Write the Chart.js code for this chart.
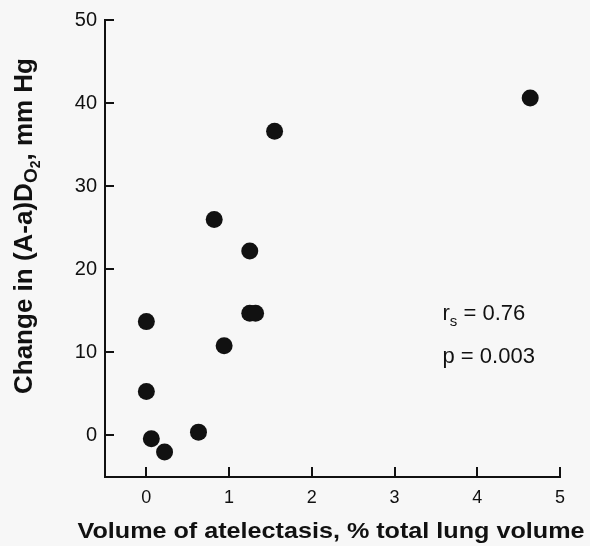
<!DOCTYPE html>
<html>
<head>
<meta charset="utf-8">
<script src="https://cdn.jsdelivr.net/npm/chart.js@4.4.0/dist/chart.umd.min.js"></script>
<style>
  html, body { margin: 0; padding: 0; background: #f7f7f7; }
</style>
</head>
<body>
<canvas id="myChart" width="590" height="546"></canvas>
<script>
// atelectasis volume (% of total lung volume) vs change in (A-a)DO2 (mm Hg)
let atelectasis = [1.55, 0.82, 1.25, 0, 1.25, 1.32, 0.94, 0, 0.06, 0.22, 0.63, 4.64];
let aaDO2Change = [36.6, 26.0, 22.2, 13.7, 14.7, 14.7, 10.8, 5.3, -0.4, -2.0, 0.4, 40.6];
let xTicks = [0, 1, 2, 3, 4, 5];
let yTicks = [0, 10, 20, 30, 40, 50];
let xTitle = 'Volume of atelectasis, % total lung volume';
let statsText = [['r', 's', ' = 0.76'], ['p', '', ' = 0.003']];

let ink = '#111';
let sans = '"Liberation Sans", Arial, sans-serif';

// draws text pieces with subscripts, left to right from x
function drawPieces(ctx, pieces, x, y) {
    pieces.forEach(function (p) {
        ctx.font = p.font;
        ctx.fillText(p.text, x, y + (p.dy || 0));
        x += ctx.measureText(p.text).width;
    });
}

function piecesWidth(ctx, pieces) {
    let w = 0;
    pieces.forEach(function (p) {
        ctx.font = p.font;
        w += ctx.measureText(p.text).width;
    });
    return w;
}

let extrasPlugin = {
    id: 'extras',
    afterDraw: function (chart) {
        let ctx = chart.ctx;
        let xs = chart.scales.x;
        let ys = chart.scales.y;
        let area = chart.chartArea;
        ctx.save();
        ctx.strokeStyle = ink;
        ctx.lineWidth = 2;
        // inward tick marks
        ctx.beginPath();
        yTicks.forEach(function (v) {
            let py = Math.round(ys.getPixelForValue(v));
            ctx.moveTo(area.left, py);
            ctx.lineTo(area.left + 9, py);
        });
        xTicks.forEach(function (v) {
            let px = Math.round(xs.getPixelForValue(v));
            ctx.moveTo(px, area.bottom);
            ctx.lineTo(px, area.bottom - 10);
        });
        ctx.stroke();

        ctx.fillStyle = ink;

        // x axis title, stretched a little like the scanned original
        ctx.font = 'bold 22px ' + sans;
        ctx.textAlign = 'center';
        ctx.textBaseline = 'alphabetic';
        let stretch = 507 / ctx.measureText(xTitle).width;
        ctx.translate(331, 538);
        ctx.scale(stretch, 1);
        ctx.fillText(xTitle, 0, 0);
        ctx.setTransform(1, 0, 0, 1, 0, 0);

        // y axis title with subscripts
        ctx.textAlign = 'left';
        ctx.textBaseline = 'middle';
        let bold = 'bold 26px ' + sans;
        let yTitle = [
            {text: 'Change in (A-a)D', font: bold},
            {text: 'O', font: 'bold 19px ' + sans, dy: 7},
            {text: '2', font: 'bold 14px ' + sans, dy: 11},
            {text: ', mm Hg', font: bold}
        ];
        ctx.translate(25, 226);
        ctx.rotate(-Math.PI / 2);
        drawPieces(ctx, yTitle, -piecesWidth(ctx, yTitle) / 2, 0);
        ctx.setTransform(1, 0, 0, 1, 0, 0);

        // statistics
        let sx = xs.getPixelForValue(3.58);
        let rows = [14.65, 9.4];
        statsText.forEach(function (t, i) {
            let py = ys.getPixelForValue(rows[i]);
            drawPieces(ctx, [
                {text: t[0], font: '22px ' + sans},
                {text: t[1], font: '15px ' + sans, dy: 8},
                {text: t[2], font: '22px ' + sans}
            ], sx, py);
        });
        ctx.restore();
    }
};

let ctx = document.getElementById('myChart').getContext('2d');
let chart = new Chart(ctx, {
    type: 'scatter',
    data: {
        datasets: [{
            data: atelectasis.map(function (v, i) { return {x: v, y: aaDO2Change[i]}; }),
            backgroundColor: ink,
            borderWidth: 0,
            pointRadius: 8.5,
            pointHoverRadius: 8.5
        }]
    },
    options: {
        responsive: false,
        animation: false,
        clip: false,
        layout: {padding: {top: 20, right: 30, left: 0, bottom: 0}},
        plugins: {legend: {display: false}, tooltip: {enabled: false}},
        scales: {
            x: {
                type: 'linear',
                min: -0.5,
                max: 5,
                afterBuildTicks: function (scale) {
                    scale.ticks = xTicks.map(function (v) { return {value: v}; });
                },
                afterFit: function (scale) { scale.height = 69; },
                grid: {drawOnChartArea: false, drawTicks: false},
                border: {display: true, width: 2, color: ink},
                ticks: {color: ink, padding: 10, font: {family: sans, size: 18}}
            },
            y: {
                type: 'linear',
                min: -5,
                max: 50,
                afterBuildTicks: function (scale) {
                    scale.ticks = yTicks.map(function (v) { return {value: v}; });
                },
                afterFit: function (scale) { scale.width = 105; },
                grid: {drawOnChartArea: false, drawTicks: false},
                border: {display: true, width: 2, color: ink},
                ticks: {color: ink, padding: 8, font: {family: sans, size: 20}}
            }
        }
    },
    plugins: [extrasPlugin]
});
</script>
</body>
</html>
